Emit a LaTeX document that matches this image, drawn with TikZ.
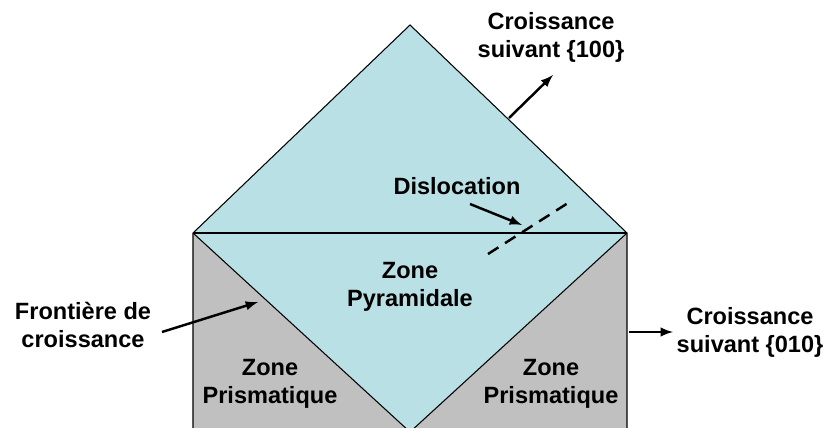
\documentclass[tikz,border=0pt]{standalone}
\usepackage{fontspec}
\setmainfont{Liberation Sans}
\usetikzlibrary{arrows, math}
\definecolor{mycyan}{RGB}{185,224,228}
\definecolor{mygray}{RGB}{192,192,192}

\begin{document}
\begin{tikzpicture}[x=0.02cm,y=-0.02cm,
  txt/.style={font=\bfseries\fontsize{13.4}{16}\selectfont, align=center, inner sep=0pt},
  arr/.style={-latex, line width=1.4pt}]
\tikzmath{
\xl=193; \xr=627; \xm=410;
\yt=25; \yb=233; \yv=432; \ybot=440;
}
\useasboundingbox (0,0) rectangle (830,428);

%%%%%%%%%%   zones
\fill[mygray] (\xl,\yb) rectangle (\xr,\ybot);
\fill[mycyan] (\xl,\yb) -- (\xm,\yt) -- (\xr,\yb) -- (\xm,\yv) -- cycle;
\draw[line width=0.6pt] (\xl,\ybot) -- (\xl,\yb) -- (\xm,\yt) -- (\xr,\yb) -- (\xr,\ybot);
\draw[line width=0.6pt] (\xl,\yb) -- (\xr,\yb);
\draw[line width=0.6pt] (\xl,\yb) -- (\xm,\yv) -- (\xr,\yb);

\node[txt] (pyr) at (410,287) {Zone\\Pyramidale};
\node[txt] (prisml) at (270,384) {Zone\\Prismatique};
\node[txt] (prismr) at (551,384) {Zone\\Prismatique};

%%%%%%%%%%   dislocation
\coordinate (dA) at (488,254);
\coordinate (dB) at (568,203);
\draw[line width=1.4pt, dash pattern=on 7pt off 4.5pt] (dA) -- (dB);
\node[txt] (disl) at (457,186) {Dislocation};
\coordinate (dS) at (470,204);
\coordinate (dT) at (522,225);
\draw[arr] (dS) -- (dT);

%%%%%%%%%%   labels with arrows
\node[txt] (c100) at (551,37) {Croissance\\suivant \{100\}};
\coordinate (c100S) at (509,118);
\coordinate (c100T) at (553,75);
\draw[arr] (c100S) -- (c100T);

\node[txt] (front) at (83,325) {Frontière de\\croissance};
\coordinate (frontS) at (162,332);
\coordinate (frontT) at (258,302);
\draw[arr] (frontS) -- (frontT);

\node[txt] (c010) at (750,332) {Croissance\\suivant \{010\}};
\coordinate (c010S) at (629,332);
\coordinate (c010T) at (673,332);
\draw[arr] (c010S) -- (c010T);
\end{tikzpicture}
\end{document}
